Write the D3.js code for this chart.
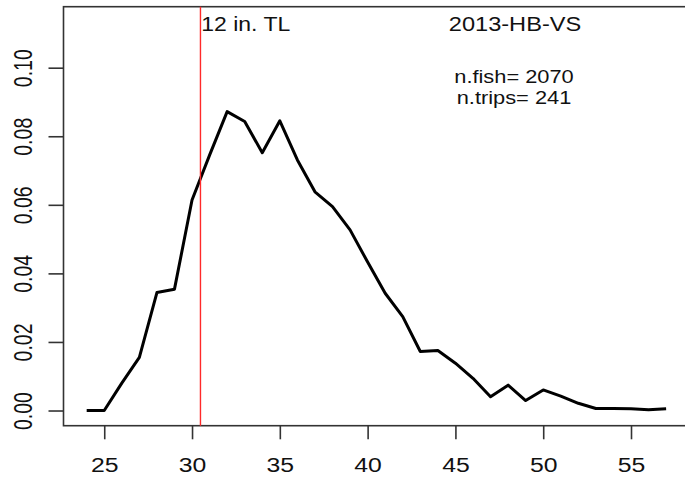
<!DOCTYPE html>
<html>
<head>
<meta charset="utf-8">
<script src="https://cdn.jsdelivr.net/npm/d3@7"></script>
<style>
  html, body { margin: 0; padding: 0; background: #fff; overflow: hidden; }
  svg { display: block; font-family: "Liberation Sans", Arial, sans-serif; }
</style>
</head>
<body>
<script>
// ---- data ----
const lengths = [24,25,26,27,28,29,30,31,32,33,34,35,36,37,38,39,40,41,42,43,44,45,46,47,48,49,50,51,52,53,54,55,56,57];
const proportions = [0, 0, 0.008, 0.0155, 0.0344, 0.0354, 0.0614, 0.0745, 0.0872, 0.0843, 0.0752, 0.0845, 0.0731, 0.0638, 0.0595, 0.0527, 0.0433, 0.0342, 0.0274, 0.0172, 0.0175, 0.0138, 0.0094, 0.0040, 0.0074, 0.0029, 0.0060, 0.0042, 0.0021, 0.0006, 0.0006, 0.0005, 0.0002, 0.0005];
const xTicks = [25, 30, 35, 40, 45, 50, 55];
const yTicks = [0, 0.02, 0.04, 0.06, 0.08, 0.10];
const xDomain = [22.68, 58.32];
const yDomain = [-0.00443, 0.11779];
const sizeLimit = 30.48; // 12 in. TL in cm
const limitLabel = "12 in. TL";
const titleLabel = "2013-HB-VS";
const nFishLabel = "n.fish= 2070";
const nTripsLabel = "n.trips= 241";

// ---- layout ----
const W = 685, H = 479;
const pL = 63.5, pR = 689.3, pT = 6.7, pB = 425.7;
const sx = 1.18; // horizontal stretch of text

const svg = d3.select("body").append("svg").attr("width", W).attr("height", H);

const x = d3.scaleLinear().domain(xDomain).range([pL, pR]);
const y = d3.scaleLinear().domain(yDomain).range([pB, pT]);

// box
svg.append("rect")
  .attr("x", pL).attr("y", pT)
  .attr("width", pR - pL).attr("height", pB - pT)
  .attr("fill", "none").attr("stroke", "#333").attr("stroke-width", 1.6);

// x axis
const xAxis = svg.append("g").attr("transform", `translate(0,${pB})`)
  .call(d3.axisBottom(x).tickValues(xTicks).tickSize(13.6).tickSizeOuter(0).tickFormat(d3.format("d")));
xAxis.select(".domain").remove();
xAxis.selectAll(".tick line").attr("stroke", "#333").attr("stroke-width", 1.6);
xAxis.selectAll(".tick text")
  .attr("x", 0).attr("y", 0).attr("dy", 0)
  .attr("font-size", 21).attr("fill", "#111")
  .attr("text-anchor", "middle")
  .attr("transform", `translate(0,46.3) scale(${sx},1)`);

// y axis
const yAxis = svg.append("g").attr("transform", `translate(${pL},0)`)
  .call(d3.axisLeft(y).tickValues(yTicks).tickSize(15).tickSizeOuter(0).tickFormat(d3.format(".2f")));
yAxis.select(".domain").remove();
yAxis.selectAll(".tick line").attr("stroke", "#333").attr("stroke-width", 1.6);
yAxis.selectAll(".tick text")
  .attr("x", 0).attr("y", 0).attr("dy", 0)
  .attr("font-size", 19.5).attr("fill", "#111")
  .attr("text-anchor", "middle")
  .attr("transform", `translate(${31.7 - pL},0) scale(1.34,1) rotate(-90)`);

// data line
const line = d3.line().x((d, i) => x(lengths[i])).y(d => y(d));
svg.append("path")
  .datum(proportions)
  .attr("d", line)
  .attr("fill", "none").attr("stroke", "#000").attr("stroke-width", 3)
  .attr("stroke-linejoin", "round");

// red vertical line
svg.append("line")
  .attr("x1", x(sizeLimit)).attr("x2", x(sizeLimit))
  .attr("y1", pT).attr("y2", pB)
  .attr("stroke", "#ff2a2a").attr("stroke-width", 1.4);

// labels
function label(txt, tx, ty, anchor, fs) {
  svg.append("text")
    .attr("transform", `translate(${tx},${ty}) scale(${sx},1)`)
    .attr("text-anchor", anchor)
    .attr("font-size", fs).attr("fill", "#111")
    .text(txt);
}
label(limitLabel, x(sizeLimit) + 0.8, 30.7, "start", 19.5);
label(titleLabel, 515, 30.7, "middle", 20);
label(nFishLabel, 514, 83, "middle", 18.5);
label(nTripsLabel, 514, 104, "middle", 18.5);
</script>
</body>
</html>
